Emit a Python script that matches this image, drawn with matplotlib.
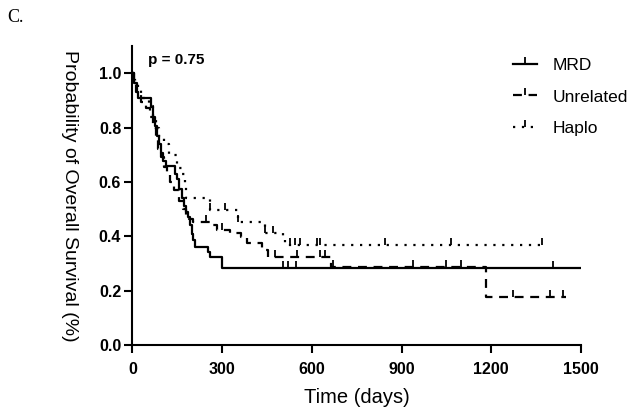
import numpy as np
import matplotlib
matplotlib.use("Agg")
import matplotlib.pyplot as plt
from matplotlib.lines import Line2D

plt.rcParams['font.family'] = ['Liberation Sans', 'DejaVu Sans']

# Kaplan-Meier steps (days, survival after the event)
mrd_t = [0, 6, 14, 20, 62, 68, 75, 81, 88, 95, 103, 113, 142, 150, 157, 165, 172,
         180, 187, 193, 198, 204, 209, 254, 260, 299, 1500]
mrd_s = [1.0, 0.965, 0.93, 0.91, 0.875, 0.84, 0.805, 0.77, 0.74, 0.705, 0.675, 0.66,
         0.63, 0.61, 0.575, 0.54, 0.51, 0.49, 0.47, 0.44, 0.41, 0.385, 0.362, 0.343,
         0.325, 0.282, 0.282]
mrd_cens = [505, 520, 548, 1407]

unr_t = [0, 5, 12, 30, 45, 58, 70, 78, 85, 95, 105, 115, 125, 140, 155, 170, 180,
         190, 204, 260, 282, 326, 365, 382, 432, 455, 665, 1184, 1451]
unr_s = [1.0, 0.96, 0.93, 0.895, 0.87, 0.84, 0.80, 0.76, 0.72, 0.69, 0.655, 0.625,
         0.60, 0.57, 0.53, 0.50, 0.48, 0.465, 0.454, 0.442, 0.423, 0.411, 0.399,
         0.374, 0.35, 0.325, 0.286, 0.175, 0.175]
unr_cens = [248, 300, 476, 549, 627, 644, 672, 939, 1050, 1100, 1272, 1397, 1440]

hap_t = [0, 8, 18, 30, 55, 70, 80, 90, 105, 124, 150, 165, 176, 180, 260, 354,
         443, 505, 510, 1368]
hap_s = [1.0, 0.97, 0.94, 0.91, 0.88, 0.84, 0.80, 0.77, 0.74, 0.70, 0.65, 0.63,
         0.59, 0.54, 0.497, 0.454, 0.411, 0.39, 0.368, 0.368]
hap_cens = [260, 310, 354, 443, 470, 527, 543, 560, 616, 627, 844, 1067, 1368]

groups = [("MRD", mrd_t, mrd_s, mrd_cens, "-"),
          ("Unrelated", unr_t, unr_s, unr_cens, (0, (4, 3))),
          ("Haplo", hap_t, hap_s, hap_cens, (0, (1, 3)))]

fig = plt.figure(figsize=(6.34, 4.16), dpi=100)
ax = fig.add_axes([0.2087, 0.1707, 0.7077, 0.7188])

handles = []
for name, t, s, cens, ls in groups:
    t = np.array(t)
    s = np.array(s)
    ax.step(t, s, where='post', color='black', lw=1.6, linestyle=ls)
    idx = np.searchsorted(t, cens, side='right') - 1
    ax.plot(cens, s[idx], linestyle='none', marker=2, markersize=5,
            markeredgewidth=1.3, color='black')
    handles.append(Line2D([], [], color='black', lw=1.6, linestyle=ls,
                          marker=2, markersize=5, markeredgewidth=1.3,
                          label=name))

ax.set_xlim(0, 1500)
ax.set_ylim(0, 1.1)
ax.set_xticks([0, 300, 600, 900, 1200, 1500])
ax.set_yticks([0.0, 0.2, 0.4, 0.6, 0.8, 1.0])
ax.set_yticklabels(['0.0', '0.2', '0.4', '0.6', '0.8', '1.0'])
for sp in ['top', 'right']:
    ax.spines[sp].set_visible(False)
for sp in ['left', 'bottom']:
    ax.spines[sp].set_linewidth(1.5)
ax.tick_params(direction='out', length=6, width=1.5, labelsize=11.5, pad=2)
ax.tick_params(axis='x', pad=6)
for lab in ax.get_xticklabels() + ax.get_yticklabels():
    lab.set_fontweight('bold')

ax.set_xlabel('Time (days)', fontsize=14.5, labelpad=8)
ax.set_ylabel('Probability of Overall Survival (%)', fontsize=14, labelpad=21,
              rotation=270, va='center')

ax.text(52, 1.05, 'p = 0.75', fontsize=11, fontweight='bold', va='center', ha='left')

leg = ax.legend(handles=handles, loc='upper right', bbox_to_anchor=(1.14, 1.013),
                frameon=False, fontsize=12.5, handlelength=1.4, handletextpad=0.9,
                labelspacing=0.95, numpoints=1)

fig.text(0.012, 0.958, 'C.', fontsize=13, family='Liberation Serif', va='center')

fig.savefig('out.png', dpi=100)
